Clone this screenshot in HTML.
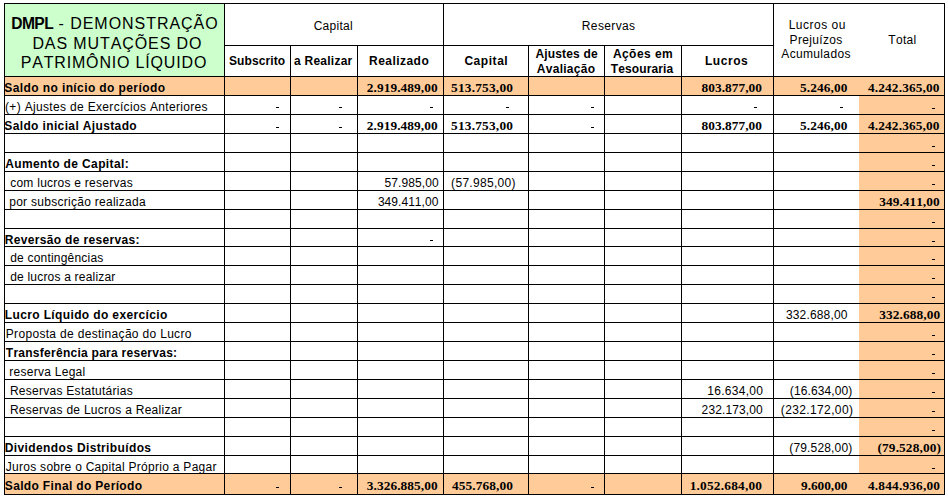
<!DOCTYPE html>
<html><head><meta charset="utf-8"><title>DMPL</title><style>
html,body{margin:0;padding:0;background:#fff}
body{position:relative;width:948px;height:498px;overflow:hidden}
.t{position:absolute;line-height:0;white-space:nowrap;font-kerning:none;color:#000}
</style></head><body>
<div style="position:absolute;left:5px;top:4px;width:219px;height:72px;background:#CCFFCC"></div>
<div style="position:absolute;left:5px;top:77px;width:939px;height:18px;background:#FFCC99"></div>
<div style="position:absolute;left:5px;top:474px;width:939px;height:20px;background:#FFCC99"></div>
<div style="position:absolute;left:859px;top:77px;width:85px;height:417px;background:#FFCC99"></div>
<div style="position:absolute;left:4px;top:3px;width:941px;height:1px;background:#000"></div>
<div style="position:absolute;left:224px;top:45px;width:549px;height:1px;background:#000"></div>
<div style="position:absolute;left:4px;top:76px;width:941px;height:1px;background:#000"></div>
<div style="position:absolute;left:4px;top:95px;width:941px;height:1px;background:#000"></div>
<div style="position:absolute;left:4px;top:114px;width:941px;height:1px;background:#000"></div>
<div style="position:absolute;left:4px;top:133px;width:941px;height:1px;background:#000"></div>
<div style="position:absolute;left:4px;top:152px;width:941px;height:1px;background:#000"></div>
<div style="position:absolute;left:4px;top:171px;width:941px;height:1px;background:#000"></div>
<div style="position:absolute;left:4px;top:190px;width:941px;height:1px;background:#000"></div>
<div style="position:absolute;left:4px;top:209px;width:941px;height:1px;background:#000"></div>
<div style="position:absolute;left:4px;top:228px;width:941px;height:1px;background:#000"></div>
<div style="position:absolute;left:4px;top:246px;width:941px;height:1px;background:#000"></div>
<div style="position:absolute;left:4px;top:265px;width:941px;height:1px;background:#000"></div>
<div style="position:absolute;left:4px;top:284px;width:941px;height:1px;background:#000"></div>
<div style="position:absolute;left:4px;top:303px;width:941px;height:1px;background:#000"></div>
<div style="position:absolute;left:4px;top:322px;width:941px;height:1px;background:#000"></div>
<div style="position:absolute;left:4px;top:341px;width:941px;height:1px;background:#000"></div>
<div style="position:absolute;left:4px;top:360px;width:941px;height:1px;background:#000"></div>
<div style="position:absolute;left:4px;top:379px;width:941px;height:1px;background:#000"></div>
<div style="position:absolute;left:4px;top:398px;width:941px;height:1px;background:#000"></div>
<div style="position:absolute;left:4px;top:417px;width:941px;height:1px;background:#000"></div>
<div style="position:absolute;left:4px;top:436px;width:941px;height:1px;background:#000"></div>
<div style="position:absolute;left:4px;top:455px;width:941px;height:1px;background:#000"></div>
<div style="position:absolute;left:4px;top:473px;width:941px;height:1px;background:#000"></div>
<div style="position:absolute;left:4px;top:494px;width:941px;height:1px;background:#000"></div>
<div style="position:absolute;left:4px;top:3px;width:1px;height:492px;background:#000"></div>
<div style="position:absolute;left:224px;top:3px;width:1px;height:492px;background:#000"></div>
<div style="position:absolute;left:443px;top:3px;width:1px;height:492px;background:#000"></div>
<div style="position:absolute;left:773px;top:3px;width:1px;height:492px;background:#000"></div>
<div style="position:absolute;left:944px;top:3px;width:1px;height:492px;background:#000"></div>
<div style="position:absolute;left:290px;top:45px;width:1px;height:450px;background:#000"></div>
<div style="position:absolute;left:357px;top:45px;width:1px;height:450px;background:#000"></div>
<div style="position:absolute;left:528px;top:45px;width:1px;height:450px;background:#000"></div>
<div style="position:absolute;left:604px;top:45px;width:1px;height:450px;background:#000"></div>
<div style="position:absolute;left:681px;top:45px;width:1px;height:450px;background:#000"></div>
<div style="position:absolute;left:276px;top:107px;width:3px;height:1px;background:#000"></div>
<div style="position:absolute;left:339px;top:107px;width:3px;height:1px;background:#000"></div>
<div style="position:absolute;left:430px;top:107px;width:3px;height:1px;background:#000"></div>
<div style="position:absolute;left:506px;top:107px;width:3px;height:1px;background:#000"></div>
<div style="position:absolute;left:591px;top:107px;width:3px;height:1px;background:#000"></div>
<div style="position:absolute;left:754px;top:107px;width:3px;height:1px;background:#000"></div>
<div style="position:absolute;left:840px;top:107px;width:3px;height:1px;background:#000"></div>
<div style="position:absolute;left:932px;top:108px;width:3px;height:1px;background:#000"></div>
<div style="position:absolute;left:276px;top:127px;width:3px;height:1px;background:#000"></div>
<div style="position:absolute;left:339px;top:127px;width:3px;height:1px;background:#000"></div>
<div style="position:absolute;left:591px;top:127px;width:3px;height:1px;background:#000"></div>
<div style="position:absolute;left:932px;top:146px;width:3px;height:1px;background:#000"></div>
<div style="position:absolute;left:932px;top:165px;width:3px;height:1px;background:#000"></div>
<div style="position:absolute;left:932px;top:184px;width:3px;height:1px;background:#000"></div>
<div style="position:absolute;left:932px;top:222px;width:3px;height:1px;background:#000"></div>
<div style="position:absolute;left:932px;top:241px;width:3px;height:1px;background:#000"></div>
<div style="position:absolute;left:932px;top:259px;width:3px;height:1px;background:#000"></div>
<div style="position:absolute;left:932px;top:278px;width:3px;height:1px;background:#000"></div>
<div style="position:absolute;left:932px;top:297px;width:3px;height:1px;background:#000"></div>
<div style="position:absolute;left:932px;top:335px;width:3px;height:1px;background:#000"></div>
<div style="position:absolute;left:932px;top:354px;width:3px;height:1px;background:#000"></div>
<div style="position:absolute;left:932px;top:373px;width:3px;height:1px;background:#000"></div>
<div style="position:absolute;left:932px;top:392px;width:3px;height:1px;background:#000"></div>
<div style="position:absolute;left:932px;top:411px;width:3px;height:1px;background:#000"></div>
<div style="position:absolute;left:932px;top:430px;width:3px;height:1px;background:#000"></div>
<div style="position:absolute;left:932px;top:468px;width:3px;height:1px;background:#000"></div>
<div style="position:absolute;left:430px;top:240px;width:3px;height:1px;background:#000"></div>
<div style="position:absolute;left:276px;top:487px;width:3px;height:1px;background:#000"></div>
<div style="position:absolute;left:339px;top:487px;width:3px;height:1px;background:#000"></div>
<div style="position:absolute;left:591px;top:487px;width:3px;height:1px;background:#000"></div>
<div class="t" style="left:313.70px;top:26px;font-family:'Liberation Sans', sans-serif;font-size:12px;font-weight:normal;letter-spacing:0.267px">Capital</div>
<div class="t" style="left:581.80px;top:26px;font-family:'Liberation Sans', sans-serif;font-size:12px;font-weight:normal;letter-spacing:0.371px">Reservas</div>
<div class="t" style="left:229.00px;top:61px;font-family:'Liberation Sans', sans-serif;font-size:12px;font-weight:bold;letter-spacing:0.100px">Subscrito</div>
<div class="t" style="left:294.00px;top:61px;font-family:'Liberation Sans', sans-serif;font-size:12px;font-weight:bold;letter-spacing:0.244px">a Realizar</div>
<div class="t" style="left:369.00px;top:61px;font-family:'Liberation Sans', sans-serif;font-size:12px;font-weight:bold;letter-spacing:0.462px">Realizado</div>
<div class="t" style="left:464.40px;top:61px;font-family:'Liberation Sans', sans-serif;font-size:12px;font-weight:bold;letter-spacing:0.550px">Capital</div>
<div class="t" style="left:535.40px;top:54px;font-family:'Liberation Sans', sans-serif;font-size:12px;font-weight:bold;letter-spacing:0.167px">Ajustes de</div>
<div class="t" style="left:536.80px;top:69px;font-family:'Liberation Sans', sans-serif;font-size:12px;font-weight:bold;letter-spacing:0.275px">Avaliação</div>
<div class="t" style="left:612.90px;top:54px;font-family:'Liberation Sans', sans-serif;font-size:12px;font-weight:bold;letter-spacing:0.443px">Ações em</div>
<div class="t" style="left:610.80px;top:69px;font-family:'Liberation Sans', sans-serif;font-size:12px;font-weight:bold;letter-spacing:0.111px">Tesouraria</div>
<div class="t" style="left:705.00px;top:61px;font-family:'Liberation Sans', sans-serif;font-size:12px;font-weight:bold;letter-spacing:0.540px">Lucros</div>
<div class="t" style="left:788.70px;top:25px;font-family:'Liberation Sans', sans-serif;font-size:12px;font-weight:normal;letter-spacing:0.500px">Lucros ou</div>
<div class="t" style="left:789.60px;top:40px;font-family:'Liberation Sans', sans-serif;font-size:12px;font-weight:normal;letter-spacing:0.337px">Prejuízos</div>
<div class="t" style="left:781.30px;top:54px;font-family:'Liberation Sans', sans-serif;font-size:12px;font-weight:normal;letter-spacing:0.344px">Acumulados</div>
<div class="t" style="left:888.30px;top:40px;font-family:'Liberation Sans', sans-serif;font-size:12px;font-weight:normal;letter-spacing:0.300px">Total</div>
<div class="t" style="left:4.30px;top:88px;font-family:'Liberation Sans', sans-serif;font-size:12px;font-weight:bold;letter-spacing:0.400px">Saldo no início do período</div>
<div class="t" style="left:5.00px;top:107px;font-family:'Liberation Sans', sans-serif;font-size:12px;font-weight:normal;letter-spacing:0.329px">(+) Ajustes de Exercícios Anteriores</div>
<div class="t" style="left:4.30px;top:126px;font-family:'Liberation Sans', sans-serif;font-size:12px;font-weight:bold;letter-spacing:0.367px">Saldo inicial Ajustado</div>
<div class="t" style="left:5.30px;top:164px;font-family:'Liberation Sans', sans-serif;font-size:12px;font-weight:bold;letter-spacing:0.372px">Aumento de Capital:</div>
<div class="t" style="left:10.20px;top:183px;font-family:'Liberation Sans', sans-serif;font-size:12px;font-weight:normal;letter-spacing:0.255px">com lucros e reservas</div>
<div class="t" style="left:9.20px;top:202px;font-family:'Liberation Sans', sans-serif;font-size:12px;font-weight:normal;letter-spacing:0.278px">por subscrição realizada</div>
<div class="t" style="left:4.80px;top:240px;font-family:'Liberation Sans', sans-serif;font-size:12px;font-weight:bold;letter-spacing:0.325px">Reversão de reservas:</div>
<div class="t" style="left:10.20px;top:258px;font-family:'Liberation Sans', sans-serif;font-size:12px;font-weight:normal;letter-spacing:0.200px">de contingências</div>
<div class="t" style="left:10.20px;top:277px;font-family:'Liberation Sans', sans-serif;font-size:12px;font-weight:normal;letter-spacing:0.200px">de lucros a realizar</div>
<div class="t" style="left:4.80px;top:315px;font-family:'Liberation Sans', sans-serif;font-size:12px;font-weight:bold;letter-spacing:0.368px">Lucro Líquido do exercício</div>
<div class="t" style="left:5.80px;top:334px;font-family:'Liberation Sans', sans-serif;font-size:12px;font-weight:normal;letter-spacing:0.317px">Proposta de destinação do Lucro</div>
<div class="t" style="left:5.80px;top:353px;font-family:'Liberation Sans', sans-serif;font-size:12px;font-weight:bold;letter-spacing:0.267px">Transferência para reservas:</div>
<div class="t" style="left:9.20px;top:372px;font-family:'Liberation Sans', sans-serif;font-size:12px;font-weight:normal;letter-spacing:0.275px">reserva Legal</div>
<div class="t" style="left:9.90px;top:391px;font-family:'Liberation Sans', sans-serif;font-size:12px;font-weight:normal;letter-spacing:0.270px">Reservas Estatutárias</div>
<div class="t" style="left:9.90px;top:410px;font-family:'Liberation Sans', sans-serif;font-size:12px;font-weight:normal;letter-spacing:0.275px">Reservas de Lucros a Realizar</div>
<div class="t" style="left:4.80px;top:448px;font-family:'Liberation Sans', sans-serif;font-size:12px;font-weight:bold;letter-spacing:0.373px">Dividendos Distribuídos</div>
<div class="t" style="left:5.80px;top:467px;font-family:'Liberation Sans', sans-serif;font-size:12px;font-weight:normal;letter-spacing:0.275px">Juros sobre o Capital Próprio a Pagar</div>
<div class="t" style="left:4.80px;top:486px;font-family:'Liberation Sans', sans-serif;font-size:12px;font-weight:bold;letter-spacing:0.343px">Saldo Final do Período</div>
<div class="t" style="left:366.80px;top:88px;font-family:'Liberation Serif', serif;font-size:13.33px;font-weight:bold;letter-spacing:0.082px">2.919.489,00</div>
<div class="t" style="left:451.00px;top:88px;font-family:'Liberation Serif', serif;font-size:13.33px;font-weight:bold;letter-spacing:0.222px">513.753,00</div>
<div class="t" style="left:701.50px;top:88px;font-family:'Liberation Serif', serif;font-size:13.33px;font-weight:bold;letter-spacing:0.056px">803.877,00</div>
<div class="t" style="left:800.00px;top:88px;font-family:'Liberation Serif', serif;font-size:13.33px;font-weight:bold;letter-spacing:0.114px">5.246,00</div>
<div class="t" style="left:868.00px;top:88px;font-family:'Liberation Serif', serif;font-size:13.33px;font-weight:bold;letter-spacing:0.136px">4.242.365,00</div>
<div class="t" style="left:366.80px;top:126px;font-family:'Liberation Serif', serif;font-size:13.33px;font-weight:bold;letter-spacing:0.082px">2.919.489,00</div>
<div class="t" style="left:451.00px;top:126px;font-family:'Liberation Serif', serif;font-size:13.33px;font-weight:bold;letter-spacing:0.222px">513.753,00</div>
<div class="t" style="left:701.50px;top:126px;font-family:'Liberation Serif', serif;font-size:13.33px;font-weight:bold;letter-spacing:0.056px">803.877,00</div>
<div class="t" style="left:800.00px;top:126px;font-family:'Liberation Serif', serif;font-size:13.33px;font-weight:bold;letter-spacing:0.114px">5.246,00</div>
<div class="t" style="left:868.00px;top:126px;font-family:'Liberation Serif', serif;font-size:13.33px;font-weight:bold;letter-spacing:0.136px">4.242.365,00</div>
<div class="t" style="left:384.60px;top:183px;font-family:'Liberation Sans', sans-serif;font-size:12px;font-weight:normal;letter-spacing:0.075px">57.985,00</div>
<div class="t" style="left:451.10px;top:183px;font-family:'Liberation Sans', sans-serif;font-size:12px;font-weight:normal;letter-spacing:0.310px">(57.985,00)</div>
<div class="t" style="left:377.90px;top:202px;font-family:'Liberation Sans', sans-serif;font-size:12px;font-weight:normal;letter-spacing:0.044px">349.411,00</div>
<div class="t" style="left:879.30px;top:202px;font-family:'Liberation Serif', serif;font-size:13.33px;font-weight:bold;letter-spacing:0.033px">349.411,00</div>
<div class="t" style="left:785.90px;top:315px;font-family:'Liberation Sans', sans-serif;font-size:12px;font-weight:normal;letter-spacing:0.167px">332.688,00</div>
<div class="t" style="left:879.30px;top:315px;font-family:'Liberation Serif', serif;font-size:13.33px;font-weight:bold;letter-spacing:0.089px">332.688,00</div>
<div class="t" style="left:707.30px;top:391px;font-family:'Liberation Sans', sans-serif;font-size:12px;font-weight:normal;letter-spacing:0.288px">16.634,00</div>
<div class="t" style="left:789.80px;top:391px;font-family:'Liberation Sans', sans-serif;font-size:12px;font-weight:normal;letter-spacing:0.110px">(16.634,00)</div>
<div class="t" style="left:701.60px;top:410px;font-family:'Liberation Sans', sans-serif;font-size:12px;font-weight:normal;letter-spacing:0.111px">232.173,00</div>
<div class="t" style="left:780.80px;top:410px;font-family:'Liberation Sans', sans-serif;font-size:12px;font-weight:normal;letter-spacing:0.373px">(232.172,00)</div>
<div class="t" style="left:789.30px;top:448px;font-family:'Liberation Sans', sans-serif;font-size:12px;font-weight:normal;letter-spacing:0.160px">(79.528,00)</div>
<div class="t" style="left:877.50px;top:448px;font-family:'Liberation Serif', serif;font-size:13.33px;font-weight:bold;letter-spacing:0.120px">(79.528,00)</div>
<div class="t" style="left:366.80px;top:486px;font-family:'Liberation Serif', serif;font-size:13.33px;font-weight:bold;letter-spacing:0.082px">3.326.885,00</div>
<div class="t" style="left:452.00px;top:486px;font-family:'Liberation Serif', serif;font-size:13.33px;font-weight:bold;letter-spacing:0.111px">455.768,00</div>
<div class="t" style="left:689.70px;top:486px;font-family:'Liberation Serif', serif;font-size:13.33px;font-weight:bold;letter-spacing:0.209px">1.052.684,00</div>
<div class="t" style="left:801.00px;top:486px;font-family:'Liberation Serif', serif;font-size:13.33px;font-weight:bold;letter-spacing:-0.029px">9.600,00</div>
<div class="t" style="left:868.00px;top:486px;font-family:'Liberation Serif', serif;font-size:13.33px;font-weight:bold;letter-spacing:0.182px">4.844.936,00</div>
<div class="t" style="left:11.20px;top:24px;font-family:'Liberation Sans', sans-serif;font-size:15.6px;font-weight:bold;letter-spacing:-0.567px">DMPL</div>
<div class="t" style="left:58.50px;top:24px;font-family:'Liberation Sans', sans-serif;font-size:16px;font-weight:normal;letter-spacing:0.962px">- DEMONSTRAÇÃO</div>
<div class="t" style="left:32.40px;top:44px;font-family:'Liberation Sans', sans-serif;font-size:16px;font-weight:normal;letter-spacing:0.900px">DAS MUTAÇÕES DO</div>
<div class="t" style="left:20.70px;top:63px;font-family:'Liberation Sans', sans-serif;font-size:16px;font-weight:normal;letter-spacing:0.829px">PATRIMÔNIO LÍQUIDO</div>
</body></html>
